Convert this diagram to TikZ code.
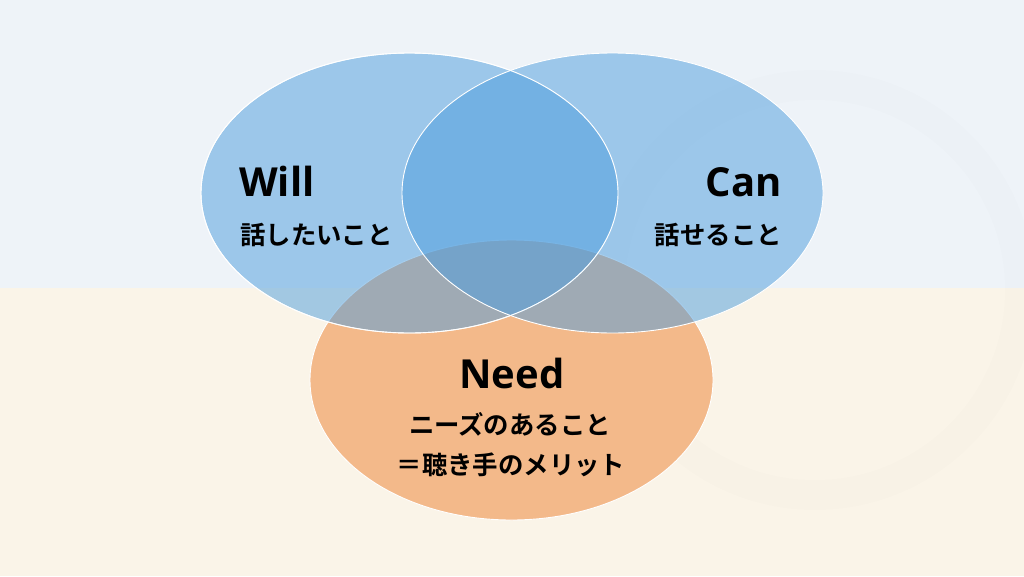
\documentclass[tikz,border=0pt]{standalone}
\usepackage{fontspec}
\setmainfont{Noto Sans CJK JP}[BoldFont={* Bold}]
\newfontfamily\titlefont{Open Sans}[BoldFont={* Bold}]
\definecolor{bgtop}{HTML}{EEF3F8}
\definecolor{bgbot}{HTML}{FAF4E8}
\definecolor{blueC}{RGB}{76,157,222}
\definecolor{needC}{HTML}{F3B98A}
\tikzset{
  setblue/.style={fill=blueC, fill opacity=0.5, draw=white, draw opacity=1, line width=0.9pt},
  setneed/.style={fill=needC, draw=white, line width=0.9pt},
  title/.style={font=\titlefont\bfseries\fontsize{40}{40}\selectfont, inner sep=0pt, text=black},
  sub/.style={font=\bfseries\fontsize{25.4}{25.4}\selectfont, inner sep=0pt, text=black},
}
\begin{document}
\begin{tikzpicture}[x=1pt,y=-1pt]
\useasboundingbox (0,0) rectangle (1024,576);
\fill[bgtop] (0,0) rectangle (1024,288);
\fill[bgbot] (0,288) rectangle (1024,576);
% faint watermark ring
\begin{scope}
\clip (0,0) rectangle (1024,576);
\draw[black, opacity=0.008, line width=30pt] (815,290) circle[radius=205];
\end{scope}
% sets
\path[setneed] (511.5,380) ellipse[x radius=201.5, y radius=140];
\path[setblue] (409.5,193) ellipse[x radius=208.5, y radius=140];
\path[setblue] (612.5,193) ellipse[x radius=210.5, y radius=140];
\draw[white, line width=0.9pt] (409.5,193) ellipse[x radius=208.5, y radius=140];
% labels
\node[title, anchor=base west] (will) at (239,196) {Will};
\node[sub, anchor=base west] (willsub) at (240,244) {話したいこと};
\node[title, anchor=base east] (can) at (782,196) {Can};
\node[sub, anchor=base east] (cansub) at (782,244) {話せること};
\node[title, anchor=base] (need) at (512,388) {Need};
\node[sub, anchor=base] (needsub1) at (510,434) {ニーズのあること};
\node[sub, anchor=base] (needsub2) at (511,474) {＝聴き手のメリット};
\end{tikzpicture}
\end{document}
